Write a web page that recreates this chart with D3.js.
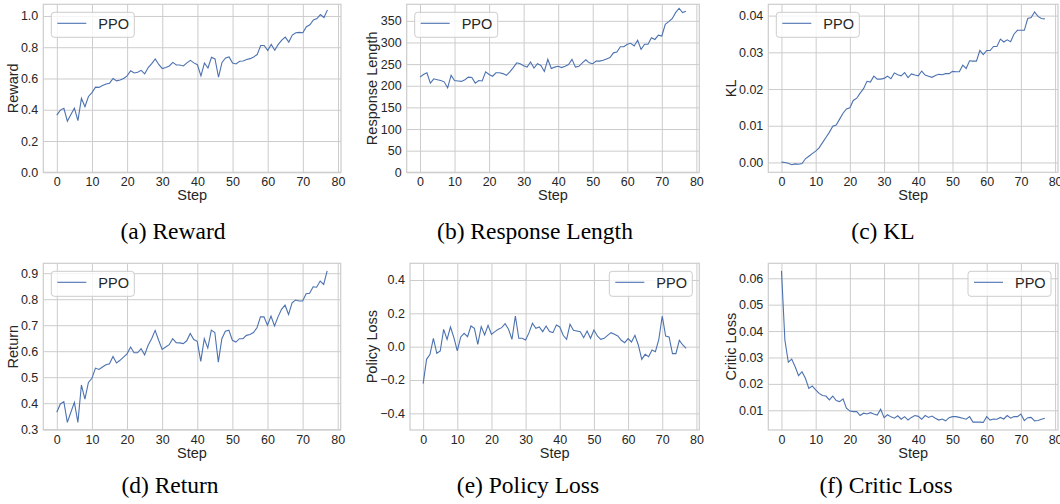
<html>
<head>
    <meta charset="utf-8">
    <title>PPO training curves</title>
    <style>
        body { margin: 0; background: #fff; }
        text { font-family: "Liberation Sans", Arial, sans-serif; }
        .caption { font-family: "Liberation Serif", "Times New Roman", serif; }
    </style>
</head>
<body>
<div id="chart"></div>
</body>
<script src="https://d3js.org/d3.v7.min.js"></script>
<script>

  const width = 1060;
  const height = 504;

  const xTicks = [0, 10, 20, 30, 40, 50, 60, 70, 80];

  const reward = [0.366,0.398,0.409,0.327,0.37,0.41,0.33,0.473,0.42,0.485,
    0.51,0.545,0.543,0.555,0.565,0.57,0.6,0.585,0.59,0.6,
    0.617,0.65,0.635,0.64,0.652,0.63,0.67,0.695,0.725,0.69,
    0.663,0.67,0.68,0.703,0.686,0.686,0.68,0.7,0.716,0.7,
    0.688,0.617,0.699,0.667,0.736,0.725,0.608,0.703,0.732,0.738,
    0.699,0.693,0.71,0.712,0.721,0.727,0.738,0.753,0.811,0.811,
    0.779,0.818,0.781,0.818,0.845,0.865,0.833,0.878,0.893,0.895,
    0.893,0.931,0.944,0.974,0.983,1.009,0.99,1.039];

  const responseLength = [220,226,230,206,216,214,212,209,195,224,
    212,211,210,214,220,219,206,212,211,232,
    226,222,230,230,228,224,232,242,253,251,
    246,243,255,241,251,247,233,261,240,243,
    245,242,245,249,261,243,245,253,260,253,
    251,257,257,259,262,265,276,278,290,290,
    296,298,292,305,284,296,296,311,307,317,
    315,342,348,355,369,379,369,372];

  const kl = [0.0001,0,-0.0002,-0.0006,-0.0004,-0.0005,-0.0003,0.001,0.0017,0.0024,
    0.0031,0.004,0.0054,0.0068,0.0082,0.0099,0.0102,0.0118,0.0134,0.0146,
    0.0149,0.0169,0.0175,0.0189,0.0201,0.0221,0.0219,0.0235,0.0227,0.0227,
    0.0229,0.0235,0.0228,0.0244,0.0239,0.0236,0.0245,0.0231,0.0241,0.0238,
    0.0236,0.0249,0.0238,0.0235,0.0232,0.0237,0.024,0.0239,0.0242,0.0242,
    0.0248,0.0247,0.0247,0.0265,0.0256,0.0277,0.0276,0.0276,0.0305,0.0294,
    0.0305,0.0305,0.0316,0.0316,0.0336,0.0328,0.0334,0.0329,0.035,0.036,
    0.036,0.036,0.0392,0.0395,0.041,0.0398,0.0392,0.0391];

  const returns = [0.365,0.397,0.406,0.326,0.365,0.403,0.326,0.47,0.416,0.48,
    0.496,0.535,0.53,0.539,0.548,0.552,0.58,0.555,0.565,0.577,
    0.59,0.616,0.594,0.594,0.61,0.586,0.623,0.648,0.68,0.642,
    0.607,0.616,0.625,0.648,0.633,0.632,0.629,0.64,0.668,0.645,
    0.638,0.561,0.648,0.612,0.681,0.672,0.558,0.648,0.677,0.681,
    0.642,0.635,0.648,0.648,0.661,0.664,0.672,0.69,0.732,0.732,
    0.7,0.735,0.697,0.732,0.761,0.777,0.741,0.786,0.797,0.793,
    0.793,0.821,0.823,0.848,0.846,0.87,0.857,0.909];

  const policyLoss = [-0.222,-0.076,-0.046,0.05,-0.04,-0.026,0.104,0.044,0.118,0.054,
    -0.026,0.058,0.08,0.06,0.124,0.11,0.014,0.12,0.07,0.128,
    0.074,0.09,0.104,0.114,0.138,0.104,0.044,0.184,0.05,0.05,
    0.04,0.084,0.14,0.11,0.118,0.09,0.124,0.09,0.084,0.13,
    0.118,0.068,0.044,0.134,0.098,0.094,0.09,0.054,0.094,0.05,
    0.1,0.064,0.044,0.05,0.068,0.084,0.074,0.064,0.038,0.024,
    0.048,0.028,0.068,0.01,-0.076,-0.046,-0.06,-0.02,-0.03,0.044,
    0.184,0.064,0.058,-0.042,-0.042,0.038,0.01,-0.01];

  const criticLoss = [0.0628,0.0366,0.0282,0.0294,0.0265,0.0231,0.0246,0.0221,0.0183,0.0192,
    0.0177,0.0164,0.0156,0.0154,0.0139,0.0154,0.0137,0.0133,0.0143,0.0108,
    0.0097,0.0095,0.0095,0.008,0.0089,0.0086,0.0091,0.0086,0.0082,0.0104,
    0.0072,0.0083,0.0075,0.007,0.0079,0.0066,0.0076,0.0063,0.0073,0.008,
    0.0077,0.0066,0.008,0.0073,0.0078,0.007,0.0063,0.0067,0.006,0.0072,
    0.0076,0.0076,0.0073,0.007,0.0066,0.0076,0.0055,0.0055,0.0055,0.0054,
    0.0076,0.0063,0.0067,0.0066,0.0073,0.0067,0.008,0.007,0.0076,0.0076,
    0.0086,0.0061,0.0072,0.0073,0.006,0.0061,0.0066,0.007];

  const rewardTicks = [0, 0.2, 0.4, 0.6, 0.8, 1.0];
  const lengthTicks = [0, 50, 100, 150, 200, 250, 300, 350];
  const klTicks = [0, 0.01, 0.02, 0.03, 0.04];
  const returnTicks = [0.3, 0.4, 0.5, 0.6, 0.7, 0.8, 0.9];
  const policyTicks = [-0.4, -0.2, 0, 0.2, 0.4];
  const criticTicks = [0.01, 0.02, 0.03, 0.04, 0.05, 0.06];

  const captions = ['(a) Reward', '(b) Response Length', '(c) KL', '(d) Return', '(e) Policy Loss', '(f) Critic Loss'];
  const yLabels = ['Reward', 'Response Length', 'KL', 'Return', 'Policy Loss', 'Critic Loss'];

  // matplotlib-like autoscale: 5% margin
  function pad(vals, lo) {
    const [a, b] = d3.extent(vals);
    const m = 0.05 * (b - a);
    return [lo !== undefined ? lo : a - m, b + m];
  }

  const panels = [
    {values: reward, ticks: rewardTicks, fmt: '.1f', domain: pad(reward, 0), box: [43.3, 341, 4.3, 172.3], ylx: 13, legend: 'left', cap: [173, 239]},
    {values: responseLength, ticks: lengthTicks, fmt: 'd', domain: pad(responseLength, 0), box: [406.7, 699.3, 4.3, 172.3], ylx: 371.5, legend: 'left', cap: [535, 239]},
    {values: kl, ticks: klTicks, fmt: '.2f', domain: pad(kl), box: [768.3, 1058, 4.3, 172.3], ylx: 731, legend: 'left', cap: [883, 239]},
    {values: returns, ticks: returnTicks, fmt: '.1f', domain: pad(returns), box: [43.3, 340.7, 263.3, 430], ylx: 13, legend: 'left', cap: [170, 493]},
    {values: policyLoss, ticks: policyTicks, fmt: '.1f', domain: [-0.5, 0.5], box: [410, 699.3, 263.3, 430], ylx: 371.5, legend: 'right', cap: [528, 493]},
    {values: criticLoss, ticks: criticTicks, fmt: '.2f', domain: pad(criticLoss), box: [768.3, 1058, 263.3, 430], ylx: 731, legend: 'right', cap: [886, 493]}
  ];

  const svg = d3.select('#chart')
    .append('svg')
    .attr('width', width)
    .attr('height', height)

  const textColor = '#262626';
  const gridColor = '#cccccc';
  const lineColor = '#4c72b0';

  panels.forEach((p, i) => {
    const [x0, x1, y0, y1] = p.box;
    const xScale = d3.scaleLinear().domain([-3.85, 80.85]).range([x0, x1]);
    const yScale = d3.scaleLinear().domain(p.domain).range([y1, y0]);
    const g = svg.append('g');

    // grid + x ticks
    const xAxis = d3.axisBottom(xScale).tickValues(xTicks).tickFormat(d3.format('d'))
      .tickSizeInner(-(y1 - y0)).tickSizeOuter(0).tickPadding(5);
    const gx = g.append('g').attr('transform', `translate(0, ${y1})`).call(xAxis);

    const yAxis = d3.axisLeft(yScale).tickValues(p.ticks).tickFormat(d3.format(p.fmt))
      .tickSizeInner(-(x1 - x0)).tickSizeOuter(0).tickPadding(5);
    const gy = g.append('g').attr('transform', `translate(${x0}, 0)`).call(yAxis);

    [gx, gy].forEach(a => {
      a.select('.domain').remove();
      a.selectAll('line').attr('stroke', gridColor).attr('stroke-width', 1);
      a.selectAll('text').attr('fill', textColor).attr('font-size', 12.5)
        .attr('font-family', '"Liberation Sans", Arial, sans-serif');
    });

    // frame
    g.append('rect')
      .attr('x', x0).attr('y', y0)
      .attr('width', x1 - x0).attr('height', y1 - y0)
      .attr('fill', 'none').attr('stroke', gridColor).attr('stroke-width', 1.2);

    // series
    const line = d3.line().x((d, j) => xScale(j)).y(d => yScale(d));
    g.append('path')
      .datum(p.values)
      .attr('d', line)
      .attr('fill', 'none')
      .attr('stroke', lineColor)
      .attr('stroke-width', 1.1);

    // axis labels
    g.append('text')
      .attr('x', (x0 + x1) / 2).attr('y', y1 + 28)
      .attr('text-anchor', 'middle').attr('font-size', 14.5).attr('fill', textColor)
      .text('Step');
    g.append('text')
      .attr('transform', `translate(${p.ylx}, ${(y0 + y1) / 2}) rotate(-90)`)
      .attr('text-anchor', 'middle').attr('dy', '0.35em')
      .attr('font-size', 14.5).attr('fill', textColor)
      .text(yLabels[i]);

    // legend
    const lw = 83, lh = 25;
    const lx = p.legend === 'left' ? x0 + 8 : x1 - 7 - lw;
    const ly = y0 + 8;
    const lg = g.append('g').attr('transform', `translate(${lx}, ${ly})`);
    lg.append('rect').attr('width', lw).attr('height', lh).attr('rx', 3)
      .attr('fill', 'white').attr('fill-opacity', 0.8)
      .attr('stroke', gridColor).attr('stroke-width', 1);
    lg.append('line').attr('x1', 6).attr('x2', 35).attr('y1', 11).attr('y2', 11)
      .attr('stroke', lineColor).attr('stroke-width', 1.1);
    lg.append('text').attr('x', 47).attr('y', 11).attr('dy', '0.36em')
      .attr('font-size', 14.5).attr('fill', textColor).text('PPO');

    // caption
    svg.append('text')
      .attr('class', 'caption')
      .attr('x', p.cap[0]).attr('y', p.cap[1])
      .attr('text-anchor', 'middle')
      .attr('font-size', 23.5).attr('fill', '#000')
      .text(captions[i]);
  });

</script>
</html>
